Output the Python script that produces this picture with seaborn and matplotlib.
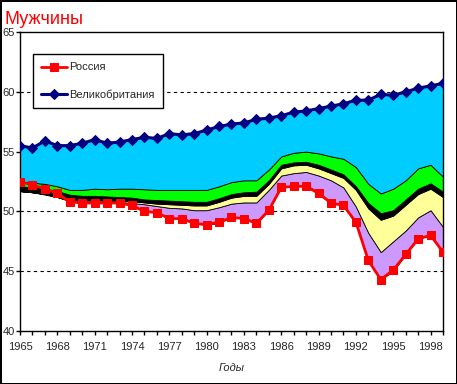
import numpy as np
import matplotlib
matplotlib.use('Agg')
import matplotlib.pyplot as plt
import seaborn as sns

sns.set_style('white')
plt.rcParams['font.family'] = ['Liberation Sans', 'DejaVu Sans']

#%% data
years = np.arange(1965, 2000)

russia = [52.5, 52.2, 51.9, 51.5, 50.8, 50.7, 50.7, 50.7, 50.7, 50.5,
          50.0, 49.9, 49.4, 49.4, 49.0, 48.9, 49.1, 49.5, 49.4, 49.0,
          50.1, 52.0, 52.1, 52.1, 51.5, 50.7, 50.5, 49.1, 45.9, 44.3,
          45.1, 46.4, 47.7, 48.0, 46.6]

uk = [55.5, 55.3, 55.9, 55.5, 55.5, 55.7, 56.0, 55.7, 55.8, 56.0,
      56.2, 56.1, 56.5, 56.4, 56.5, 56.8, 57.1, 57.3, 57.4, 57.7,
      57.8, 58.0, 58.3, 58.4, 58.6, 58.8, 59.0, 59.3, 59.3, 59.8,
      59.7, 60.0, 60.3, 60.5, 60.7]

# band boundaries (bottom -> top)
base = [51.7, 51.6, 51.4, 51.2, 50.85, 50.75, 50.7, 50.7, 50.7, 50.5,
        50.1, 49.9, 49.45, 49.4, 49.0, 48.85, 49.05, 49.5, 49.45, 49.0,
        50.1, 52.05, 52.15, 52.2, 51.6, 50.8, 50.5, 49.0, 45.9, 44.3,
        45.0, 46.4, 47.7, 48.1, 46.6]
purple_top = [51.7, 51.6, 51.45, 51.2, 50.9, 50.85, 50.85, 50.8, 50.8, 50.7,
              50.6, 50.45, 50.3, 50.25, 50.1, 50.1, 50.35, 50.65, 50.75, 50.75,
              51.8, 53.0, 53.2, 53.3, 53.0, 52.6, 52.0, 50.4, 48.2, 46.6,
              47.5, 48.4, 49.5, 50.1, 48.7]
yellow_top = [51.7, 51.6, 51.5, 51.3, 51.0, 50.95, 50.95, 50.9, 50.9, 50.85,
              50.75, 50.65, 50.6, 50.55, 50.5, 50.5, 50.8, 51.15, 51.3, 51.3,
              52.3, 53.6, 53.85, 53.9, 53.6, 53.2, 52.8, 51.8, 50.25, 49.3,
              49.65, 50.55, 51.45, 51.9, 51.2]
black_top = [52.1, 52.0, 51.9, 51.7, 51.4, 51.3, 51.3, 51.25, 51.2, 51.15,
             51.0, 50.95, 50.9, 50.85, 50.8, 50.8, 51.1, 51.45, 51.6, 51.65,
             52.6, 53.9, 54.1, 54.15, 53.9, 53.5, 53.1, 52.1, 50.7, 49.85,
             50.1, 51.0, 51.9, 52.35, 51.65]
green_top = [52.5, 52.4, 52.3, 52.1, 51.8, 51.8, 51.9, 51.85, 51.9, 51.9,
             51.85, 51.8, 51.8, 51.8, 51.8, 51.8, 52.1, 52.45, 52.6, 52.6,
             53.5, 54.6, 54.9, 55.0, 54.85, 54.6, 54.4, 53.7, 52.3, 51.5,
             51.9, 52.6, 53.6, 53.9, 52.9]

bands = [(base, purple_top, '#CC99FF'),
         (purple_top, yellow_top, '#FFFF99'),
         (yellow_top, black_top, '#000000'),
         (black_top, green_top, '#00FF00'),
         (green_top, uk, '#00CCFF')]

#%% plot
fig = plt.figure(figsize=(4.57, 3.84), dpi=100)
ax = fig.add_axes([20/457, 53/384, 423/457, 299/384])

for lo, hi, col in bands:
    ax.fill_between(years, lo, hi, facecolor=col, edgecolor='black', linewidth=0.6, zorder=2)

sns.lineplot(x=years, y=russia, ax=ax, color='#FF0000', marker='s', markersize=6,
             markeredgecolor='#FF0000', linewidth=2, label='Россия', zorder=4)
sns.lineplot(x=years, y=uk, ax=ax, color='#000080', marker='D', markersize=5,
             markeredgecolor='#000080', linewidth=2.2, label='Великобритания', zorder=4)

ax.set_xlim(1965, 1999)
ax.set_ylim(40, 65)
ax.set_yticks(np.arange(40, 66, 5))
ax.set_xticks(np.arange(1965, 1999, 3))
ax.set_xticks(years, minor=True)
ax.tick_params(axis='both', which='both', direction='out', length=2.8, width=1,
               color='black', labelsize=8, bottom=True, left=True)
ax.tick_params(axis='y', pad=1)
ax.tick_params(axis='x', pad=5)

for s in ax.spines.values():
    s.set_color('black')
    s.set_linewidth(1)

ax.set_axisbelow(True)
for v in [45, 50, 55, 60]:
    ax.axhline(v, color='black', linewidth=0.8, linestyle=(0, (3, 3)), zorder=1)

ax.set_xlabel('Годы', fontsize=8, fontstyle='italic', labelpad=8)
ax.set_ylabel('')

leg = ax.legend(loc='upper left', bbox_to_anchor=(0.031, 0.926), borderaxespad=0,
                fontsize=8, frameon=True, fancybox=False, edgecolor='black',
                handlelength=2.3, labelspacing=1.5, borderpad=0.75, handletextpad=0.2)
leg.get_frame().set_linewidth(1)
leg.get_frame().set_alpha(1)

fig.text(5/457, 1 - 20/384, 'Мужчины', color='#FF0000', fontsize=13, va='center', ha='left')

fig.patch.set_edgecolor('black')
fig.patch.set_linewidth(2)

fig.savefig('out.png', dpi=100)
